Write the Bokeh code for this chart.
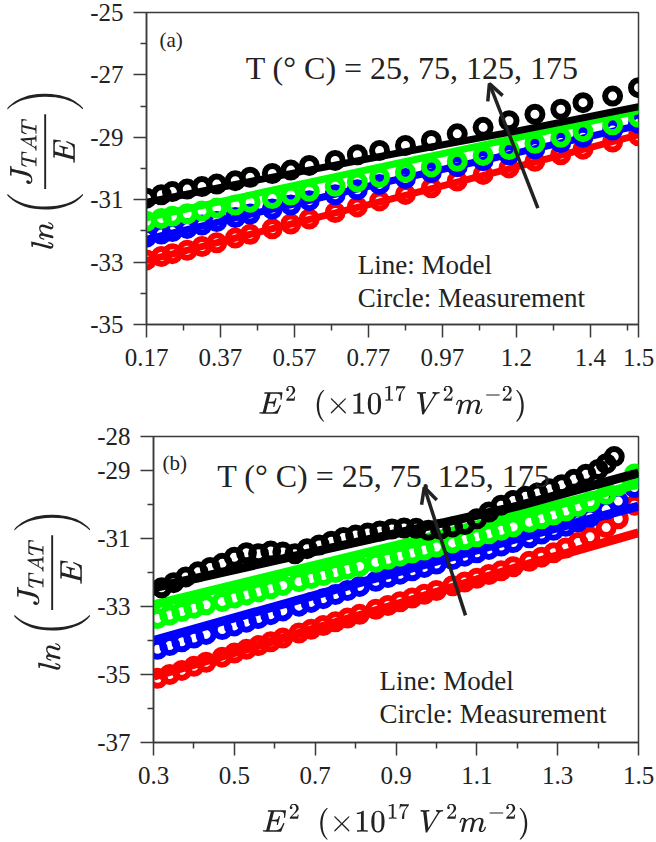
from bokeh.plotting import figure
from bokeh.models import FixedTicker, Label, Arrow, OpenHead
from bokeh.layouts import column, row
from bokeh.embed import file_html
from bokeh.resources import INLINE

# ---------------- panel (a) data ----------------
a_x = [0.17, 0.21, 0.24, 0.28, 0.32, 0.36, 0.41, 0.45, 0.51, 0.56, 0.61, 0.68,
       0.74, 0.80, 0.87, 0.94, 1.01, 1.08, 1.15, 1.22, 1.29, 1.35, 1.43, 1.50]
a_meas_175 = [-30.95, -30.84, -30.74, -30.66, -30.58, -30.50, -30.39, -30.28, -30.16, -30.05, -29.90, -29.74,
              -29.56, -29.42, -29.26, -29.10, -28.89, -28.68, -28.47, -28.26, -28.10, -27.89, -27.68, -27.41]
a_meas_125 = [-31.69, -31.60, -31.53, -31.45, -31.36, -31.27, -31.17, -31.08, -30.96, -30.85, -30.73, -30.57,
              -30.43, -30.28, -30.12, -29.95, -29.77, -29.58, -29.39, -29.19, -29.00, -28.82, -28.60, -28.36]
a_meas_75 = [-32.20, -32.10, -32.02, -31.92, -31.81, -31.70, -31.57, -31.46, -31.30, -31.17, -31.03, -30.84,
             -30.68, -30.51, -30.32, -30.13, -29.94, -29.75, -29.56, -29.37, -29.17, -29.00, -28.77, -28.55]
a_meas_25 = [-32.93, -32.82, -32.73, -32.62, -32.50, -32.38, -32.23, -32.11, -31.93, -31.78, -31.62, -31.41,
             -31.23, -31.04, -30.83, -30.62, -30.40, -30.19, -29.98, -29.77, -29.56, -29.38, -29.15, -28.95]
a_model_x = [0.17, 0.50, 0.83, 1.17, 1.50]
a_model_175 = [-31.08, -30.30, -29.55, -28.80, -28.02]
a_model_125 = [-31.58, -30.72, -29.88, -29.02, -28.15]
a_model_75 = [-32.27, -31.33, -30.40, -29.50, -28.62]
a_model_25 = [-32.95, -31.96, -30.98, -29.95, -28.92]
a_xticks = [0.17, 0.37, 0.57, 0.77, 0.97, 1.17, 1.37, 1.5]
a_xtick_labels = ["0.17", "0.37", "0.57", "0.77", "0.97", "1.2", "1.4", "1.5"]
a_xminor = [0.27, 0.47, 0.67, 0.87, 1.07, 1.27, 1.47]
a_yticks = [-35, -33, -31, -29, -27, -25]
a_ytick_labels = ["-35", "-33", "-31", "-29", "-27", "-25"]
a_yminor = [-34, -32, -30, -28, -26]

# ---------------- panel (b) data ----------------
b_x = [0.31, 0.34, 0.37, 0.40, 0.43, 0.47, 0.50, 0.53, 0.56, 0.59, 0.62, 0.66, 0.69,
       0.72, 0.75, 0.78, 0.81, 0.85, 0.88, 0.91, 0.94, 0.97, 1.00, 1.04, 1.07, 1.10,
       1.13, 1.16, 1.19, 1.23, 1.26, 1.29, 1.32, 1.35, 1.38, 1.42, 1.45, 1.49]
b_x_175 = [0.32, 0.35, 0.38, 0.41, 0.44, 0.47, 0.50, 0.53, 0.56, 0.59, 0.62, 0.65, 0.68,
           0.71, 0.74, 0.77, 0.80, 0.83, 0.86, 0.89, 0.92, 0.95, 0.98, 1.01, 1.04, 1.07,
           1.10, 1.13, 1.16, 1.19, 1.22, 1.25, 1.28, 1.31, 1.34, 1.37, 1.40, 1.42, 1.44]
b_meas_175 = [-32.45, -32.30, -32.13, -31.98, -31.85, -31.73, -31.55, -31.42, -31.45, -31.37, -31.40, -31.45,
              -31.30, -31.19, -31.08, -30.97, -30.90, -30.84, -30.78, -30.72, -30.69, -30.70, -30.76, -30.73,
              -30.66, -30.59, -30.42, -30.22, -30.02, -29.88, -29.76, -29.66, -29.54, -29.42, -29.26, -29.11,
              -28.97, -28.80, -28.59]
b_meas_125 = [-33.35, -33.25, -33.15, -33.05, -32.95, -32.85, -32.75, -32.66, -32.57, -32.48, -32.38, -32.27,
              -32.18, -32.09, -32.00, -31.91, -31.82, -31.70, -31.61, -31.52, -31.43, -31.34, -31.25, -31.13,
              -31.04, -30.95, -30.86, -30.76, -30.66, -30.52, -30.42, -30.31, -30.19, -30.06, -29.92, -29.70,
              -29.45, -29.10]
b_meas_75 = [-34.26, -34.15, -34.04, -33.93, -33.82, -33.68, -33.57, -33.46, -33.35, -33.24, -33.13, -32.99,
             -32.88, -32.77, -32.65, -32.53, -32.41, -32.26, -32.15, -32.05, -31.95, -31.85, -31.75, -31.62,
             -31.52, -31.42, -31.32, -31.22, -31.12, -30.98, -30.87, -30.76, -30.64, -30.51, -30.37, -30.15,
             -29.90, -29.50]
b_meas_25 = [-35.11, -35.00, -34.88, -34.76, -34.64, -34.49, -34.37, -34.26, -34.15, -34.04, -33.93, -33.78,
             -33.67, -33.56, -33.45, -33.34, -33.23, -33.08, -32.97, -32.86, -32.75, -32.64, -32.53, -32.39,
             -32.28, -32.17, -32.06, -31.95, -31.83, -31.67, -31.55, -31.42, -31.28, -31.12, -30.95, -30.68,
             -30.42, -30.02]
b_model_x = [0.30, 0.90, 1.20, 1.50]
b_model_175 = [-32.45, -30.85, -30.05, -29.07]
b_model_125 = [-32.95, -31.20, -30.30, -29.40]
b_model_75 = [-34.00, -32.00, -31.00, -30.05]
b_model_25 = [-35.05, -32.95, -31.85, -30.83]
b_xticks = [0.3, 0.5, 0.7, 0.9, 1.1, 1.3, 1.5]
b_xtick_labels = ["0.3", "0.5", "0.7", "0.9", "1.1", "1.3", "1.5"]
b_xminor = [0.4, 0.6, 0.8, 1.0, 1.2, 1.4]
b_yticks = [-37, -35, -33, -31, -29, -28]
b_ytick_labels = ["-37", "-35", "-33", "-31", "-29", "-28"]
b_yminor = [-36, -34, -32, -30]

colors = {"25": "#ff0000", "75": "#0000ff", "125": "#00ff00", "175": "#000000"}
SERIF = "Liberation Serif"
AXC = "#3a3a3a"


def make_fig(xr, yr, width, height, mb):
    p = figure(width=width, height=height, x_range=xr, y_range=yr,
               output_backend="svg", toolbar_location=None,
               min_border_left=mb[0], min_border_right=mb[1],
               min_border_top=mb[2], min_border_bottom=mb[3])
    p.grid.visible = False
    p.outline_line_color = AXC
    p.outline_line_width = 1.5
    p.background_fill_color = "white"
    p.border_fill_color = "white"
    for ax in (p.xaxis[0], p.yaxis[0]):
        ax.axis_line_color = AXC
        ax.axis_line_width = 1.5
        ax.major_tick_line_color = AXC
        ax.minor_tick_line_color = AXC
        ax.major_tick_line_width = 1.5
        ax.minor_tick_line_width = 1.5
        ax.major_tick_in = 0
        ax.major_tick_out = 13
        ax.minor_tick_in = 0
        ax.minor_tick_out = 6
        ax.major_label_text_font = SERIF
        ax.major_label_text_font_size = "25px"
        ax.major_label_text_color = "#222222"
        ax.axis_label_text_color = "#222222"
    p.xaxis[0].axis_label_text_font_size = "25px"
    p.yaxis[0].axis_label_text_font_size = "26px"
    p.xaxis[0].major_label_standoff = 11
    p.yaxis[0].major_label_standoff = 10
    p.xaxis[0].axis_label_standoff = 17
    p.yaxis[0].axis_label_standoff = 4
    p.xaxis[0].axis_label = r"$$E^2\ \ (\times 10^{17}\ V^2 m^{-2})$$"
    p.yaxis[0].axis_label = r"$$ln\left(\frac{J_{TAT}}{E}\right)$$"
    return p


def set_ticks(p, xt, xl, xm, yt, yl, ym):
    p.xaxis[0].ticker = FixedTicker(ticks=xt, minor_ticks=xm)
    p.xaxis[0].major_label_overrides = {t: l for t, l in zip(xt, xl)}
    p.yaxis[0].ticker = FixedTicker(ticks=yt, minor_ticks=ym)
    p.yaxis[0].major_label_overrides = {t: l for t, l in zip(yt, yl)}


def draw(p, mx, my, lx, ly, color, lw):
    p.scatter(mx, my, marker="circle", size=15, line_width=6, line_color=color,
              fill_alpha=0)
    p.line(lx, ly, line_width=lw, line_color=color)


def texts(p, pos_lab, lab, pos_t, pos_l1, pos_l2):
    p.add_layout(Label(x=pos_lab[0], y=pos_lab[1], text=lab, text_font=SERIF,
                       text_font_size="21px", text_color="#222222", text_baseline="alphabetic"))
    p.add_layout(Label(x=pos_t[0], y=pos_t[1], text="T (\u00b0 C) = 25, 75, 125, 175", text_font=SERIF,
                       text_font_size="32px", text_color="#222222", text_baseline="alphabetic"))
    p.add_layout(Label(x=pos_l1[0], y=pos_l1[1], text="Line: Model", text_font=SERIF,
                       text_font_size="27px", text_color="#222222", text_baseline="alphabetic"))
    p.add_layout(Label(x=pos_l2[0], y=pos_l2[1], text="Circle: Measurement", text_font=SERIF,
                       text_font_size="27px", text_color="#222222", text_baseline="alphabetic"))


# ---- top panel ----
pa = make_fig((0.17, 1.5), (-35, -25), 656, 424, (146, 18, 12, 96))
set_ticks(pa, a_xticks, a_xtick_labels, a_xminor, a_yticks, a_ytick_labels, a_yminor)
draw(pa, a_x, a_meas_25, a_model_x, a_model_25, colors["25"], 7)
draw(pa, a_x, a_meas_75, a_model_x, a_model_75, colors["75"], 7)
draw(pa, a_x, a_meas_125, a_model_x, a_model_125, colors["125"], 7)
draw(pa, a_x, a_meas_175, a_model_x, a_model_175, colors["175"], 7)
texts(pa, (0.205, -25.89), "(a)", (0.438, -26.77), (0.741, -33.10), (0.741, -34.15))
pa.add_layout(Arrow(x_start=1.228, y_start=-31.27, x_end=1.097, y_end=-27.28,
                    line_color="#222222", line_width=3.5,
                    end=OpenHead(size=16, line_width=3.5, line_color="#222222")))

# ---- bottom panel ----
pb = make_fig((0.3, 1.5), (-37, -28), 656, 418, (153, 18, 12, 91))
set_ticks(pb, b_xticks, b_xtick_labels, b_xminor, b_yticks, b_ytick_labels, b_yminor)
draw(pb, b_x, b_meas_25, b_model_x, b_model_25, colors["25"], 9)
draw(pb, b_x, b_meas_75, b_model_x, b_model_75, colors["75"], 9)
draw(pb, b_x, b_meas_125, b_model_x, b_model_125, colors["125"], 9)
draw(pb, b_x_175, b_meas_175, b_model_x, b_model_175, colors["175"], 9)
texts(pb, (0.322, -28.77), "(b)", (0.458, -29.17), (0.859, -35.2), (0.859, -36.17))
pb.add_layout(Arrow(x_start=1.072, y_start=-33.26, x_end=0.970, y_end=-29.49,
                    line_color="#222222", line_width=3.5,
                    end=OpenHead(size=16, line_width=3.5, line_color="#222222")))

layout = column(row(pa), row(pb), spacing=0)
open("out.html", "w").write(file_html(layout, INLINE))
